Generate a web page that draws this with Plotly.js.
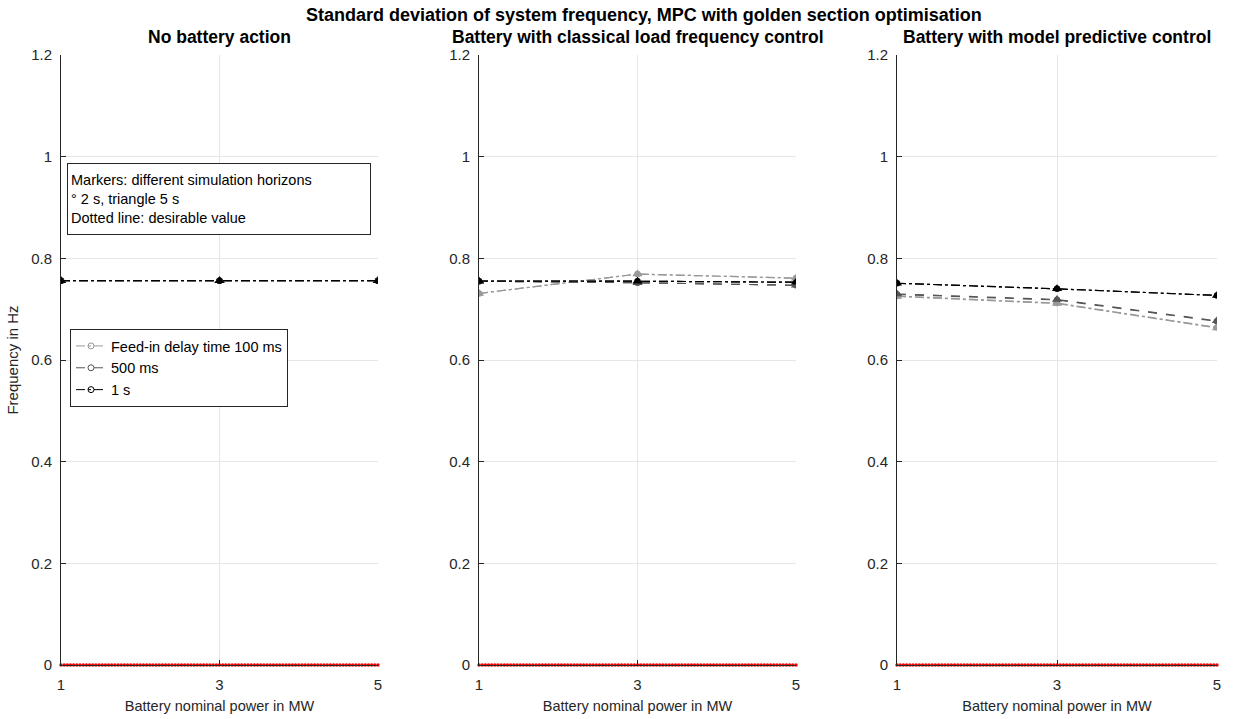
<!DOCTYPE html>
<html><head><meta charset="utf-8">
<script src="https://cdn.plot.ly/plotly-3.0.1.min.js"></script>
<style>html,body{margin:0;padding:0;background:#fff}#c{width:1237px;height:719px}</style>
</head><body><div id="c"></div>
<script>
const powers = [1, 3, 5];
const delays = ["Feed-in delay time 100 ms", "500 ms", "1 s"];
// Panel 1: no battery action  [delay][power], circles = 2 s horizon, triangles = 5 s horizon
const noBat2s = [[0.756, 0.756, 0.756], [0.756, 0.756, 0.756], [0.756, 0.756, 0.756]];
const noBat5s = [[0.756, 0.756, 0.756], [0.756, 0.756, 0.756], [0.756, 0.756, 0.756]];
// Panel 2: classical load frequency control
const lfc2s = [[0.731, 0.769, 0.761], [0.755, 0.752, 0.747], [0.755, 0.755, 0.753]];
const lfc5s = [[0.731, 0.769, 0.761], [0.755, 0.752, 0.747], [0.755, 0.755, 0.753]];
// Panel 3: model predictive control
const mpc2s = [[0.726, 0.712, 0.664], [0.729, 0.718, 0.676], [0.751, 0.740, 0.727]];
const mpc5s = [[0.725, 0.711, 0.663], [0.730, 0.719, 0.677], [0.751, 0.740, 0.727]];
const desirableValue = 0;
const yTicks = [0, 0.2, 0.4, 0.6, 0.8, 1, 1.2];
const yTickText = ["0", "0.2", "0.4", "0.6", "0.8", "1", "1.2"];
const panelTitles = ["No battery action", "Battery with classical load frequency control", "Battery with model predictive control"];

const colors = ["#999999", "#555555", "#000000"];
const dashes = ["dashdot", "dash", "dashdot"];
const fontFam = "Liberation Sans, Arial, Helvetica, sans-serif";
const txt = "#262626";

// dense sample of the desirable-value line (dotted marker line)
const dotX = [];
for (let k = 0; k <= 100; k++) dotX.push(powers[0] + (powers[2] - powers[0]) * k / 100);
const dotY = dotX.map(() => desirableValue);

const panels = [[noBat2s, noBat5s], [lfc2s, lfc5s], [mpc2s, mpc5s]];
const data = [];
panels.forEach((p, i) => {
  const xa = i === 0 ? "x" : "x" + (i + 1);
  const ya = i === 0 ? "y" : "y" + (i + 1);
  ["circle", "triangle-up"].forEach((sym, s) => {
    for (let d = 0; d < 3; d++) {
      data.push({x: powers, y: p[s][d], xaxis: xa, yaxis: ya, mode: "lines+markers", showlegend: false,
        line: {color: colors[d], width: 1.2, dash: dashes[d]},
        marker: {symbol: sym, size: s === 0 ? 6.5 : 9, color: colors[d]}});
    }
  });
  data.push({x: dotX, y: dotY, xaxis: xa, yaxis: ya, mode: "markers", showlegend: false, cliponaxis: false,
    marker: {color: "#ff0000", size: 3.5, line: {width: 0}}, hoverinfo: "skip"});
});
// legend entries (open circles)
for (let d = 0; d < 3; d++) {
  data.push({x: [null], y: [null], xaxis: "x", yaxis: "y", mode: "lines+markers", name: delays[d],
    line: {color: colors[d], width: 1, dash: dashes[d]},
    marker: {symbol: "circle-open", size: 6, color: colors[d]}});
}

const W = 1237, H = 719;
const xdom = [[61 / W, 378 / W], [479 / W, 796 / W], [897 / W, 1217 / W]];
const ydom = [(H - 665) / H, (H - 55) / H];
const layout = {
  width: W, height: H, margin: {l: 0, r: 0, t: 0, b: 0},
  paper_bgcolor: "#fff", plot_bgcolor: "#fff",
  font: {family: fontFam, size: 14, color: txt},
  showlegend: true,
  legend: {x: 70 / W, y: (H - 329) / H, xanchor: "left", yanchor: "top",
    bgcolor: "#fff", bordercolor: "#262626", borderwidth: 1,
    font: {family: fontFam, size: 14.5, color: "#000"}, tracegroupgap: 0, itemwidth: 30},
  annotations: [
    {text: "<b>Standard deviation of system frequency, MPC with golden section optimisation</b>",
      x: (297 + 991) / 2 / W, y: (H - 15) / H, xref: "paper", yref: "paper", showarrow: false,
      xanchor: "center", font: {size: 18, color: "#000"}, yanchor: "middle"},
    {text: "Markers: different simulation horizons<br>° 2 s, triangle 5 s<br>Dotted line: desirable value",
      x: 67 / W, y: (H - 163) / H, xref: "paper", yref: "paper", xanchor: "left", yanchor: "top",
      showarrow: false, align: "left", width: 296, height: 64, valign: "middle",
      bordercolor: "#262626", borderwidth: 1, borderpad: 3, bgcolor: "#fff",
      font: {size: 14.5, color: "#000"}}
  ]
};
for (let i = 0; i < 3; i++) {
  const sx = i === 0 ? "" : String(i + 1);
  layout["xaxis" + sx] = {domain: xdom[i], anchor: "y" + sx, range: [1, 5],
    tickvals: powers, ticktext: powers.map(String), ticks: "inside", ticklen: 5, tickcolor: txt,
    showline: true, linecolor: txt, linewidth: 1, showgrid: true, gridcolor: "#e6e6e6", zeroline: false,
    tickfont: {size: 15, color: txt}, ticklabelstandoff: 6,
    title: {text: "Battery nominal power in MW", font: {size: 14.5, color: txt}, standoff: 8}};
  layout["yaxis" + sx] = {domain: ydom, anchor: "x" + sx, range: [0, 1.2],
    tickvals: yTicks, ticktext: yTickText, ticks: "inside", ticklen: 5, tickcolor: txt,
    showline: true, linecolor: txt, linewidth: 1, showgrid: true, gridcolor: "#e6e6e6", zeroline: false,
    tickfont: {size: 15, color: txt}, ticklabelstandoff: 5,
    title: i === 0 ? {text: "Frequency in Hz", font: {size: 15, color: txt}, standoff: 8} : {text: ""}};
  layout.annotations.push({text: "<b>" + panelTitles[i] + "</b>",
    x: (xdom[i][0] + xdom[i][1]) / 2, y: (H - 37) / H, xref: "paper", yref: "paper",
    xanchor: "center", showarrow: false, yanchor: "middle", font: {size: 17.5, color: "#000"}});
}
Plotly.newPlot("c", data, layout, {displayModeBar: false, staticPlot: true});
</script></body></html>
